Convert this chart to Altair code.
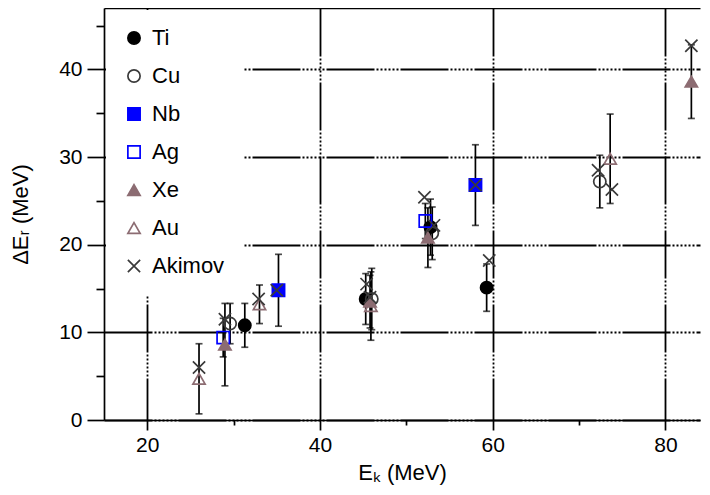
import altair as alt
import pandas as pd

# ---- data ----
series_order = ["Ti", "Cu", "Nb", "Ag", "Xe", "Au", "Akimov"]

ti_x = [31.3, 45.3, 52.8, 59.3]
ti_y = [10.8, 13.8, 22.0, 15.1]
ti_e = [2.5, 2.9, 3.2, 2.7]

cu_x = [29.6, 46.0, 53.0, 72.4]
cu_y = [11.0, 13.8, 21.3, 27.2]
cu_e = [2.3, 3.5, 3.0, 3.0]

nb_x = [35.2, 58.0]
nb_y = [14.8, 26.8]
nb_e = [4.1, 4.6]

ag_x = [28.8, 52.2]
ag_y = [9.4, 22.7]
ag_e = [2.2, 2.0]

xe_x = [29.0, 45.8, 52.5, 83.0]
xe_y = [8.6, 13.5, 20.8, 38.6]
xe_e = [4.7, 3.0, 3.4, 4.2]

au_x = [26.0, 33.0, 45.9, 73.6]
au_y = [4.7, 13.2, 13.0, 29.8]
au_e = [4.0, 2.2, 3.9, 5.1]

ak_x = [26.0, 29.0, 32.9, 35.0, 45.4, 45.8, 52.1, 53.2, 58.0, 59.6, 72.2, 73.8, 83.0]
ak_y = [6.0, 11.5, 13.8, 14.8, 15.5, 14.0, 25.4, 22.2, 26.8, 18.2, 28.5, 26.3, 42.7]

x_major = [20, 40, 60, 80]
x_minor = [30, 50, 70]
y_major = [0, 10, 20, 30, 40]
y_minor = [5, 15, 25, 35, 45]

# ---- build table ----
rows = []
for name, xs, ys, es in [
    ("Ti", ti_x, ti_y, ti_e), ("Cu", cu_x, cu_y, cu_e), ("Nb", nb_x, nb_y, nb_e),
    ("Ag", ag_x, ag_y, ag_e), ("Xe", xe_x, xe_y, xe_e), ("Au", au_x, au_y, au_e),
    ("Akimov", ak_x, ak_y, [0] * len(ak_x)),
]:
    for x, y, e in zip(xs, ys, es):
        rows.append({"series": name, "Ek": x, "dE": y, "lo": y - e, "hi": y + e, "err": e})
df = pd.DataFrame(rows)
err_df = df[df["err"] > 0]

FONT = "Liberation Sans"
MAUVE = "#8c6c72"
BLUE = "#0000ff"
GRAY = "#3a3a3a"
DASH = [48, 2, 2, 2, 2, 2, 2, 2, 2, 2, 2, 2, 2, 2]

xscale = alt.Scale(domain=[15, 84], nice=False, zero=False)
yscale = alt.Scale(domain=[0, 47], nice=False, zero=False)

leg = alt.Legend(title=None)
shape_scale = alt.Scale(domain=series_order,
                        range=["circle", "circle", "square", "square", "triangle-up", "triangle-up",
                               "M-1,-1L1,1M-1,1L1,-1"])
fill_scale = alt.Scale(domain=series_order,
                       range=["black", "transparent", BLUE, "transparent", MAUVE, "transparent", "transparent"])
stroke_scale = alt.Scale(domain=series_order,
                         range=["black", GRAY, BLUE, BLUE, MAUVE, MAUVE, GRAY])
size_scale = alt.Scale(domain=series_order, range=[150, 150, 160, 160, 200, 200, 380])

points = alt.Chart(df).mark_point(filled=True, opacity=1, strokeWidth=1.7).encode(
    x=alt.X("Ek:Q", scale=xscale,
            axis=alt.Axis(orient="bottom", values=x_major, grid=True, tickSize=10,
                          title="Eₖ (MeV)", labelPadding=4, titlePadding=7)),
    y=alt.Y("dE:Q", scale=yscale,
            axis=alt.Axis(orient="left", values=y_major, grid=True, tickSize=17,
                          title="ΔEᵣ (MeV)", labelPadding=5, titlePadding=26)),
    shape=alt.Shape("series:N", scale=shape_scale, legend=leg, sort=series_order),
    fill=alt.Fill("series:N", scale=fill_scale, legend=leg, sort=series_order),
    stroke=alt.Stroke("series:N", scale=stroke_scale, legend=leg, sort=series_order),
    size=alt.Size("series:N", scale=size_scale, legend=leg, sort=series_order),
)

bars = alt.Chart(err_df).mark_rule(color="black", strokeWidth=1.7).encode(
    x=alt.X("Ek:Q", scale=xscale,
            axis=alt.Axis(orient="bottom", values=x_minor, grid=False, tickSize=5,
                          labels=False, domain=False, title=None)),
    y=alt.Y("lo:Q", scale=yscale,
            axis=alt.Axis(orient="left", values=y_minor, grid=False, tickSize=8,
                          labels=False, domain=False, title=None)),
    y2="hi:Q",
)

cap_lo = alt.Chart(err_df).mark_tick(color="black", orient="horizontal", size=7, thickness=1.7).encode(
    x=alt.X("Ek:Q", scale=xscale,
            axis=alt.Axis(orient="top", ticks=False, labels=False, grid=False, domain=True, title=None)),
    y=alt.Y("lo:Q", scale=yscale, axis=None),
)
cap_hi = alt.Chart(err_df).mark_tick(color="black", orient="horizontal", size=7, thickness=1.7).encode(
    x=alt.X("Ek:Q", scale=xscale, axis=None),
    y=alt.Y("hi:Q", scale=yscale, axis=None),
)

chart = alt.layer(bars, cap_lo, cap_hi, points).resolve_axis(
    x="independent", y="independent"
).properties(
    width=596, height=412,
    autosize=alt.AutoSizeParams(type="none"),
    padding={"left": 96, "top": 0, "right": 2, "bottom": 67},
).configure_view(stroke=None).configure_axis(
    labelFont=FONT, titleFont=FONT, labelFontSize=21, titleFontSize=22,
    labelColor="black", titleColor="black", titleFontWeight="normal",
    domainColor="black", domainWidth=1.7, tickColor="black", tickWidth=1.7,
    gridColor="black", gridWidth=1.8, gridOpacity=1, gridDash=DASH,
).configure_legend(
    orient="top-left", offset=2, padding=17, fillColor="white", strokeColor="white",
    labelFont=FONT, labelFontSize=22, labelColor="black", labelOffset=7,
    rowPadding=16, symbolStrokeWidth=1.7, symbolOpacity=1,
)

chart.save("out.html", embed_options={"renderer": "svg", "actions": False})
